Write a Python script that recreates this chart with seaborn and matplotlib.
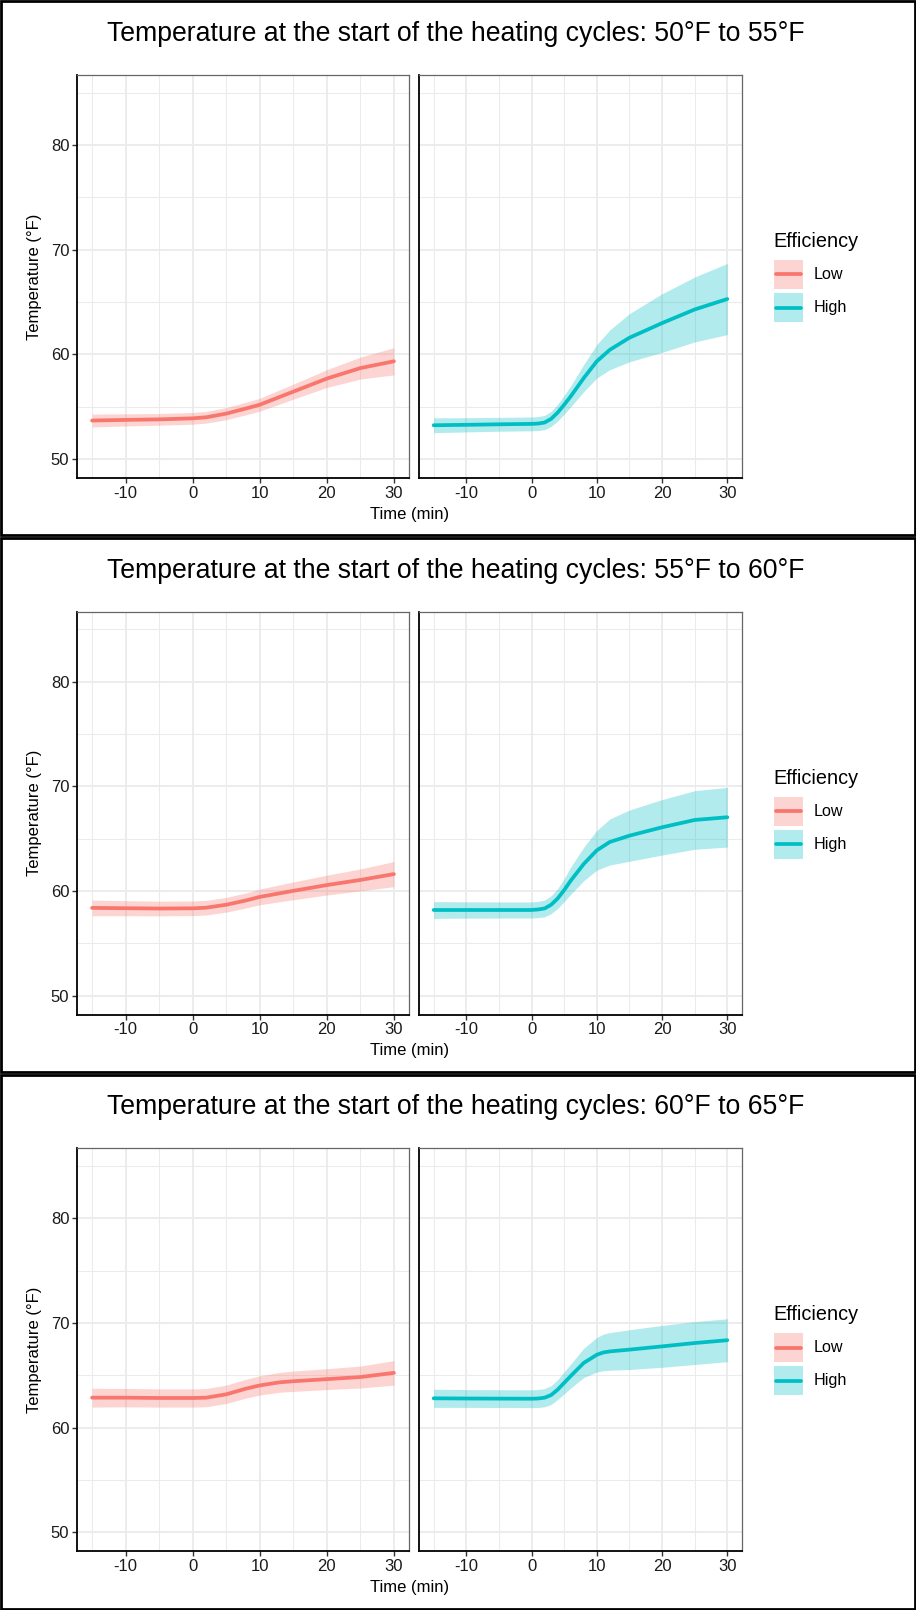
import numpy as np
import pandas as pd
import matplotlib
matplotlib.use("Agg")
import matplotlib.pyplot as plt
import seaborn as sns
from matplotlib.patches import Rectangle
from matplotlib.lines import Line2D
from matplotlib.ticker import MultipleLocator

# ---------------- data ----------------
titles = [
    "Temperature at the start of the heating cycles: 50°F to 55°F",
    "Temperature at the start of the heating cycles: 55°F to 60°F",
    "Temperature at the start of the heating cycles: 60°F to 65°F",
]
efficiency_levels = ["Low", "High"]

low1_x = [-15, -10, -5, 0, 2, 5, 8, 10, 15, 20, 25, 30]
low1_y = [53.69, 53.75, 53.8, 53.9, 54.0, 54.35, 54.85, 55.2, 56.45, 57.7, 58.7, 59.35]
low1_se = [0.62, 0.58, 0.56, 0.56, 0.56, 0.58, 0.6, 0.62, 0.72, 0.85, 1.05, 1.3]

high1_x = [-15, -10, -5, 0, 1, 2, 3, 4, 5, 6, 8, 10, 12, 15, 20, 25, 30]
high1_y = [53.24, 53.28, 53.33, 53.37, 53.4, 53.5, 53.85, 54.45, 55.2, 56.0, 57.75, 59.35, 60.45, 61.6, 63.0, 64.3, 65.3]
high1_se = [0.71, 0.68, 0.66, 0.66, 0.67, 0.68, 0.72, 0.8, 0.9, 1.0, 1.3, 1.6, 1.9, 2.3, 2.8, 3.1, 3.4]

low2_x = [-15, -10, -5, 0, 2, 5, 8, 10, 15, 20, 25, 30]
low2_y = [58.4, 58.37, 58.34, 58.36, 58.42, 58.7, 59.12, 59.45, 60.03, 60.58, 61.07, 61.63]
low2_se = [0.75, 0.72, 0.7, 0.7, 0.7, 0.7, 0.72, 0.75, 0.85, 0.95, 1.05, 1.2]

high2_x = [-15, -10, -5, 0, 1, 2, 3, 4, 5, 6, 8, 10, 12, 15, 20, 25, 30]
high2_y = [58.2, 58.2, 58.2, 58.2, 58.25, 58.35, 58.7, 59.3, 60.1, 61.0, 62.6, 63.9, 64.7, 65.3, 66.1, 66.8, 67.06]
high2_se = [0.8, 0.78, 0.77, 0.77, 0.78, 0.8, 0.85, 0.95, 1.1, 1.3, 1.6, 1.9, 2.2, 2.45, 2.65, 2.8, 2.85]

low3_x = [-15, -10, -5, 0, 2, 5, 8, 10, 13, 15, 20, 25, 30]
low3_y = [62.88, 62.88, 62.85, 62.85, 62.88, 63.2, 63.75, 64.05, 64.35, 64.45, 64.65, 64.85, 65.25]
low3_se = [0.9, 0.88, 0.87, 0.87, 0.87, 0.88, 0.9, 0.92, 0.95, 0.97, 1.0, 1.05, 1.17]

high3_x = [-15, -10, -5, 0, 1, 2, 3, 4, 5, 6, 8, 10, 11, 12, 15, 20, 25, 30]
high3_y = [62.82, 62.8, 62.79, 62.78, 62.8, 62.88, 63.13, 63.65, 64.3, 64.95, 66.2, 66.98, 67.2, 67.3, 67.47, 67.78, 68.1, 68.37]
high3_se = [0.87, 0.85, 0.85, 0.85, 0.86, 0.87, 0.9, 0.95, 1.05, 1.15, 1.4, 1.65, 1.75, 1.8, 1.9, 2.0, 2.05, 2.05]

x_ticks = [-10, 0, 10, 20, 30]
y_ticks = [50, 60, 70, 80]

panels = [
    [(low1_x, low1_y, low1_se), (high1_x, high1_y, high1_se)],
    [(low2_x, low2_y, low2_se), (high2_x, high2_y, high2_se)],
    [(low3_x, low3_y, low3_se), (high3_x, high3_y, high3_se)],
]

# ---------------- style ----------------
sns.set_theme(style="white")
plt.rcParams["font.family"] = ["Liberation Sans", "DejaVu Sans"]

colors = {"Low": "#F8766D", "High": "#00BFC4"}
W, H = 916, 1610
fig = plt.figure(figsize=(W / 100, H / 100), dpi=100)
fig.patch.set_facecolor("white")

PH = H / 3.0
facet_x = [(77, 409), (419, 742)]
ax_top, ax_bot = 75, 478

def fx(px):
    return px / W

def fy(py):
    return 1 - py / H

tick_col = "#1a1a1a"
for p in range(3):
    off = p * PH
    for f, (eff, (xs, ys, se)) in enumerate(zip(efficiency_levels, panels[p])):
        x0, x1 = facet_x[f]
        ax = fig.add_axes([fx(x0), fy(off + ax_bot), (x1 - x0) / W, (ax_bot - ax_top) / H])
        ax.set_facecolor("white")
        df = pd.DataFrame({"Time": xs, "Temp": ys, "se": se})
        lo = df["Temp"] - df["se"]
        hi = df["Temp"] + df["se"]
        ax.fill_between(df["Time"], lo, hi, color=colors[eff], alpha=0.3, lw=0, zorder=2)
        sns.lineplot(data=df, x="Time", y="Temp", ax=ax, color=colors[eff], lw=2.7,
                     zorder=3, legend=False)
        ax.lines[-1].set_solid_joinstyle("round")
        ax.set_xlim(-17.25, 32.25)
        ax.set_ylim(48.2, 86.7)
        ax.xaxis.set_major_locator(plt.FixedLocator(x_ticks))
        ax.xaxis.set_minor_locator(MultipleLocator(10, offset=5))
        ax.yaxis.set_major_locator(plt.FixedLocator(y_ticks))
        ax.yaxis.set_minor_locator(MultipleLocator(10, offset=5))
        ax.grid(which="major", color="#EBEBEB", lw=1.35, zorder=0)
        ax.grid(which="minor", color="#EBEBEB", lw=0.75, zorder=0)
        ax.set_axisbelow(True)
        ax.set_xlabel("")
        ax.set_ylabel("")
        for s in ["top", "right"]:
            ax.spines[s].set_color("#666666")
            ax.spines[s].set_linewidth(0.9)
        for s in ["left", "bottom"]:
            ax.spines[s].set_color("black")
            ax.spines[s].set_linewidth(1.3)
        ax.tick_params(axis="x", which="major", direction="out", length=3.5, width=1.0,
                       color="#333333", labelsize=12, labelcolor=tick_col, pad=2, bottom=True)
        ax.tick_params(axis="x", which="minor", length=0)
        if f == 0:
            ax.tick_params(axis="y", which="major", direction="out", length=3.5, width=1.0,
                           color="#333333", labelsize=12, labelcolor=tick_col, pad=2, left=True)
        else:
            ax.tick_params(axis="y", which="major", left=False, labelleft=False)
        ax.tick_params(axis="y", which="minor", length=0)
        ax.set_xticklabels([str(t) for t in x_ticks])
        if f == 0:
            ax.set_yticklabels([str(t) for t in y_ticks])

    # titles and axis labels
    fig.text(fx(456), fy(off + 34), titles[p], ha="center", va="center", fontsize=19.2, color="black")
    fig.text(fx((77 + 742) / 2), fy(off + 514), "Time (min)", ha="center", va="center",
             fontsize=12, color="black")
    fig.text(fx(35), fy(off + (ax_top + ax_bot) / 2), "Temperature (°F)", ha="center",
             va="center", rotation=90, fontsize=12, color="black")

    # legend (drawn as figure artists)
    fig.text(fx(773), fy(off + 247), "Efficiency", ha="left", va="baseline",
             fontsize=14.3, color="black")
    key_tops = [260, 293]
    key_h, key_x0, key_w = 29, 774, 29
    for eff, kt in zip(efficiency_levels, key_tops):
        fig.add_artist(Rectangle((fx(key_x0), fy(off + kt + key_h)), key_w / W, key_h / H,
                                 transform=fig.transFigure, facecolor=colors[eff],
                                 alpha=0.3, edgecolor="none"))
        cy = fy(off + kt + key_h / 2)
        fig.add_artist(Line2D([fx(key_x0 + 2), fx(key_x0 + key_w - 2)], [cy, cy],
                              transform=fig.transFigure, color=colors[eff], lw=2.7))
        fig.text(fx(814), cy, eff, ha="left", va="center", fontsize=11.6, color="black")

    # panel border
    fig.add_artist(Rectangle((fx(1.2), fy(off + PH - 1.2)), (W - 2.4) / W, (PH - 2.4) / H,
                             transform=fig.transFigure, fill=False, edgecolor="black", lw=2.0))

fig.savefig("out.png", dpi=100, facecolor="white")
